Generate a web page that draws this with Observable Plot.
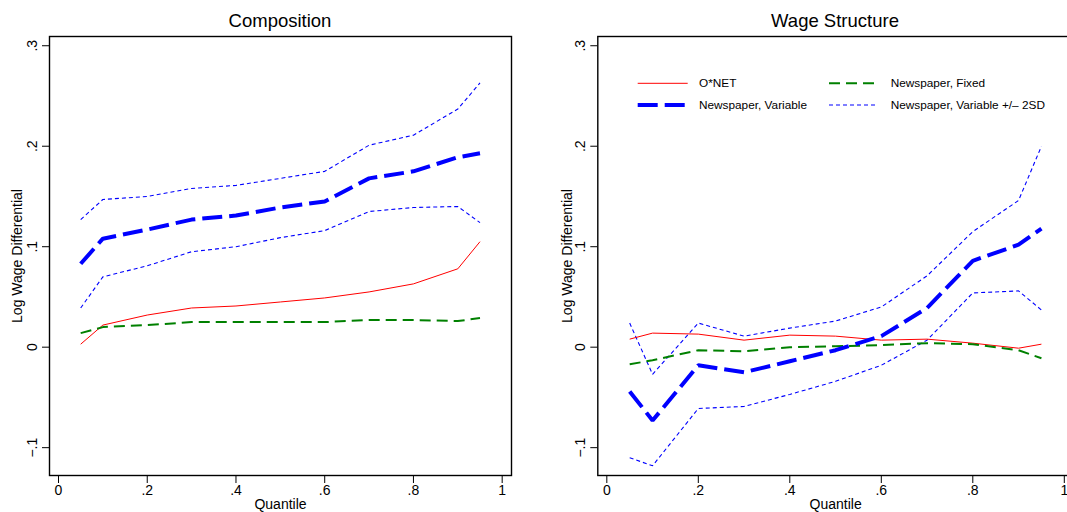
<!DOCTYPE html>
<html><head><meta charset="utf-8">
<script src="https://cdn.jsdelivr.net/npm/d3@7"></script>
<script src="https://cdn.jsdelivr.net/npm/@observablehq/plot@0.6"></script>
<style>
body{margin:0;background:#fff;overflow:hidden;font-family:"Liberation Sans",Arial,sans-serif}
#wrap{position:relative;width:1067px;height:512px;overflow:hidden;background:#fff}
.panel{position:absolute;top:0}
.title{position:absolute;top:10px;font-size:18.5px;line-height:22px;transform:translateX(-50%);white-space:nowrap;color:#000}
#legend{position:absolute;left:0;top:0;pointer-events:none}
</style></head><body><div id="wrap"></div>
<script>
// ---- data ----
const quantiles = [0.05, 0.1, 0.2, 0.3, 0.4, 0.5, 0.6, 0.7, 0.8, 0.9, 0.95];
const xTicks = [0, 0.2, 0.4, 0.6, 0.8, 1];
const yTicks = [-0.1, 0, 0.1, 0.2, 0.3];
const panelTitles = ["Composition", "Wage Structure"];
const seriesNames = ["O*NET", "Newspaper, Fixed", "Newspaper, Variable", "Newspaper, Variable +/\u2013 2SD"];

// Composition panel
const compOnet  = [0.003, 0.022, 0.032, 0.039, 0.041, 0.045, 0.049, 0.055, 0.063, 0.078, 0.105];
const compFixed = [0.014, 0.020, 0.022, 0.025, 0.025, 0.025, 0.025, 0.027, 0.027, 0.026, 0.029];
const compVar   = [0.083, 0.108, 0.117, 0.127, 0.131, 0.139, 0.145, 0.168, 0.175, 0.189, 0.193];
const compUpper = [0.127, 0.147, 0.150, 0.158, 0.161, 0.168, 0.175, 0.201, 0.211, 0.237, 0.263];
const compLower = [0.039, 0.070, 0.081, 0.095, 0.100, 0.109, 0.116, 0.135, 0.139, 0.140, 0.124];

// Wage structure panel
const wsOnet  = [0.008, 0.014, 0.013, 0.007, 0.012, 0.011, 0.007, 0.008, 0.004, -0.001, 0.003];
const wsFixed = [-0.017, -0.013, -0.003, -0.004, 0.000, 0.001, 0.002, 0.004, 0.003, -0.003, -0.011];
const wsVar   = [-0.044, -0.073, -0.018, -0.025, -0.014, -0.003, 0.011, 0.039, 0.086, 0.102, 0.118];
const wsUpper = [0.024, -0.027, 0.024, 0.011, 0.019, 0.026, 0.040, 0.071, 0.115, 0.146, 0.200];
const wsLower = [-0.110, -0.118, -0.061, -0.059, -0.047, -0.034, -0.018, 0.007, 0.054, 0.056, 0.037];

// ---- styles ----
const styles = {
  onet:  {stroke: "#ff0000", strokeWidth: 1},
  fixed: {stroke: "#008000", strokeWidth: 2, strokeDasharray: "11,6"},
  vari:  {stroke: "#0000ff", strokeWidth: 4, strokeDasharray: "20,7"},
  band:  {stroke: "#0000ff", strokeWidth: 1.1, strokeDasharray: "4,3"}
};

const fmt = d => d === 0 ? "0" : (d < 0 ? "\u2212" : "") + String(+Math.abs(d).toFixed(2)).replace(/^0/, "");

function toRows(vals) { return quantiles.map((q, i) => ({q, v: vals[i]})); }

function makePanel(series, cfg) {
  const lineOf = (vals, st) => Plot.line(toRows(vals), {x: "q", y: "v", ...st, strokeLinejoin: "miter", strokeLinecap: "butt"});
  return Plot.plot({
    width: cfg.width, height: 512,
    marginLeft: cfg.ml, marginRight: cfg.mr, marginTop: 36, marginBottom: 37,
    x: {domain: cfg.xdom, axis: null},
    y: {domain: [-0.1277, 0.3092], axis: null},
    style: {fontFamily: "Liberation Sans, Arial, sans-serif", fontSize: "14px", color: "#000", background: "transparent", overflow: "visible"},
    marks: [
      lineOf(series.lower, styles.band),
      lineOf(series.upper, styles.band),
      lineOf(series.onet, styles.onet),
      lineOf(series.fixed, styles.fixed),
      lineOf(series.vari, styles.vari),
      Plot.frame({stroke: "#000", strokeWidth: 1.4}),
      Plot.axisX({ticks: xTicks, tickSize: 8, tickPadding: 2, tickFormat: fmt, label: null, fontSize: 14}),
      Plot.axisY({ticks: yTicks, tickSize: 7, tickFormat: () => "", label: null}),
      Plot.text(yTicks, {y: d => d, text: fmt, frameAnchor: "left", dx: -17, rotate: -90, textAnchor: "middle", lineAnchor: "middle", fontSize: 14}),
      Plot.text(["Log Wage Differential"], {text: d => d, frameAnchor: "left", dx: cfg.ylabDx, rotate: -90, textAnchor: "middle", lineAnchor: "middle", fontSize: 14}),
      Plot.text(["Quantile"], {text: d => d, frameAnchor: "bottom", dy: 29, lineAnchor: "middle", fontSize: 14})
    ]
  });
}

const wrap = document.getElementById("wrap");

const left = makePanel({onet: compOnet, fixed: compFixed, vari: compVar, upper: compUpper, lower: compLower},
  {width: 540, ml: 49, mr: 29, xdom: [-0.0203, 1.021], ylabDx: -32});
left.classList.add("panel"); left.style.left = "0px";
wrap.appendChild(left);

const right = makePanel({onet: wsOnet, fixed: wsFixed, vari: wsVar, upper: wsUpper, lower: wsLower},
  {width: 545, ml: 57.3, mr: 12, xdom: [-0.0197, 1.0201], ylabDx: -30.5});
right.classList.add("panel"); right.style.left = "540px";
wrap.appendChild(right);

// titles
[[panelTitles[0], 280], [panelTitles[1], 835]].forEach(([t, x]) => {
  const d = document.createElement("div");
  d.className = "title"; d.textContent = t; d.style.left = x + "px";
  wrap.appendChild(d);
});

// legend (inside the right panel)
const legendItems = [
  {name: seriesNames[0], st: styles.onet,  x: 637.7, y: 83.3},
  {name: seriesNames[1], st: styles.fixed, x: 829,   y: 83.3},
  {name: seriesNames[2], st: styles.vari,  x: 637.7, y: 105},
  {name: seriesNames[3], st: styles.band,  x: 829,   y: 105}
];
const lg = d3.select(wrap).append("svg").attr("id", "legend").attr("width", 1067).attr("height", 512);
legendItems.forEach(it => {
  lg.append("line").attr("x1", it.x).attr("x2", it.x + (it.x > 800 ? 46 : 50)).attr("y1", it.y).attr("y2", it.y)
    .attr("stroke", it.st.stroke).attr("stroke-width", it.st.strokeWidth)
    .attr("stroke-dasharray", it.st.strokeDasharray || null);
  lg.append("text").attr("x", it.x + (it.x > 800 ? 61.7 : 61.3)).attr("y", it.y).attr("dy", "0.35em")
    .attr("font-family", "Liberation Sans, Arial, sans-serif").attr("font-size", 11.8).attr("fill", "#000")
    .text(it.name);
});
</script></body></html>
